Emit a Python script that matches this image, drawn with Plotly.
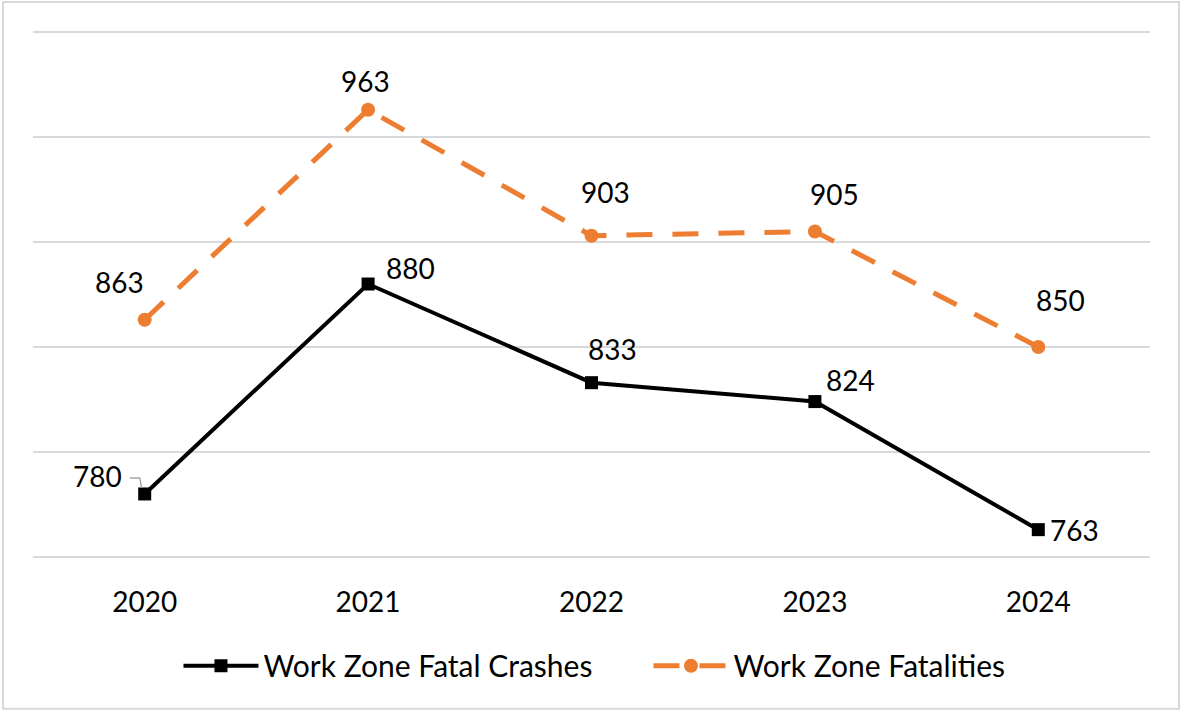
import plotly.graph_objects as go

years = ["2020", "2021", "2022", "2023", "2024"]
crashes = [780, 880, 833, 824, 763]
fatalities = [863, 963, 903, 905, 850]

# label offsets (pixels) relative to points
crash_off = [(-47, 18), (42, 16), (21, 34), (36, 22), (36, 0)]
fat_off = [(-25, 38), (-3, 29), (14, 44), (20, 38), (22, 47)]

FONT = "Lato"
FS = 28
fig = go.Figure()
fig.add_trace(go.Scatter(
    x=years, y=crashes, mode="lines+markers", name="Work Zone Fatal Crashes",
    line=dict(color="#000000", width=4),
    marker=dict(symbol="square", size=13, color="#000000"),
))
fig.add_trace(go.Scatter(
    x=years, y=fatalities, mode="lines+markers", name="Work Zone Fatalities",
    line=dict(color="#ED7D31", width=5, dash="26px,20px"),
    marker=dict(symbol="circle", size=14, color="#ED7D31"),
))

for i, (v, (dx, dy)) in enumerate(zip(crashes, crash_off)):
    fig.add_annotation(x=i, y=v, text=str(v), showarrow=False, xshift=dx, yshift=dy,
                       font=dict(family=FONT, size=FS, color="#000000"))
for i, (v, (dx, dy)) in enumerate(zip(fatalities, fat_off)):
    fig.add_annotation(x=i, y=v, text=str(v), showarrow=False, xshift=dx, yshift=dy,
                       font=dict(family=FONT, size=FS, color="#000000"))

# leader line for the 2020 crash label
fig.add_shape(type="path", xref="x", yref="y", xsizemode="pixel", ysizemode="pixel",
              xanchor=0, yanchor=crashes[0],
              path="M -15 16 L -5 16 L -3 6",
              line=dict(color="#A6A6A6", width=1.5))

# outer border
PW, PH, L, T = 1117, 527.1, 33, 31
fig.add_shape(type="rect", xref="paper", yref="paper",
              x0=(3 - L) / PW, x1=(1179 - L) / PW,
              y0=-(709 - (T + PH)) / PH, y1=(T + PH - 2) / PH,
              line=dict(color="#D9D9D9", width=2), layer="below")

fig.update_layout(
    width=1181, height=712,
    margin=dict(l=33, r=31, t=31, b=154),
    paper_bgcolor="white", plot_bgcolor="white",
    showlegend=True,
    legend=dict(orientation="h", x=0.551, xanchor="center", y=-0.155, yanchor="top",
                font=dict(family=FONT, size=30, color="#000000"),
                itemwidth=75, entrywidth=380, traceorder="normal"),
    font=dict(family=FONT, size=FS, color="#000000"),
)
fig.update_xaxes(type="category", range=[-0.5, 4.5], showgrid=False, showline=False,
                 zeroline=False, ticks="", ticklabelstandoff=25,
                 tickfont=dict(family=FONT, size=FS, color="#000000"))
fig.update_yaxes(range=[749.5, 1000.5], tickvals=[750, 800, 850, 900, 950, 1000],
                 showgrid=True, gridcolor="#D9D9D9",
                 gridwidth=2, showticklabels=False, zeroline=False, showline=False)

fig.write_html("out.html", config={"displayModeBar": False},
               post_script="document.body.style.margin='0';document.body.style.overflow='hidden';")
